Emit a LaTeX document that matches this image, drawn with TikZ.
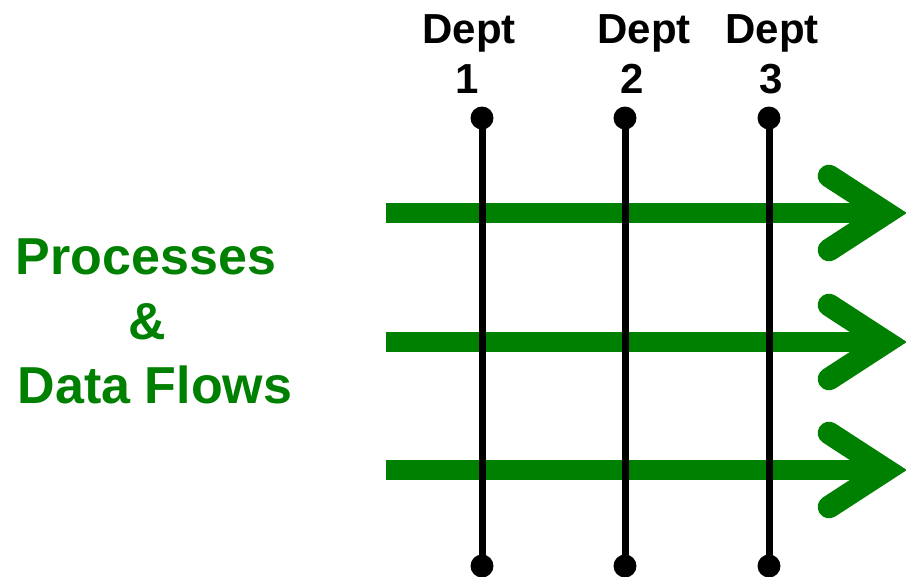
\documentclass[tikz,border=0pt]{standalone}
\usepackage{fontspec}
\setmainfont{Liberation Sans}
\definecolor{flowgreen}{RGB}{0,128,0}

\tikzset{
  dept/.style={font=\bfseries\fontsize{31.5}{38}\selectfont, anchor=base, inner sep=0pt},
  flowtext/.style={font=\bfseries\fontsize{39}{46}\selectfont, text=flowgreen, anchor=base, inner sep=0pt},
  flow/.style={draw=flowgreen, line width=15.5pt},
  flowhead/.style={draw=flowgreen, line width=17pt, line cap=round, line join=miter},
  deptline/.style={draw=black, line width=5.25pt},
  dot/.style={fill=black}
}

\begin{document}
\begin{tikzpicture}[x=0.75pt, y=-0.75pt]
    \useasboundingbox (0,0) rectangle (906,577);

    % flows
    \coordinate (s1) at (386,213); \coordinate (e1) at (886,213);
    \coordinate (s2) at (386,342); \coordinate (e2) at (886,342);
    \coordinate (s3) at (386,470); \coordinate (e3) at (886,470);
    \draw[flow] (s1) -- ([xshift=-5pt]e1);
    \draw[flow] (s2) -- ([xshift=-5pt]e2);
    \draw[flow] (s3) -- ([xshift=-5pt]e3);
    \draw[flowhead] ([shift={(-57,-37)}]e1) -- (e1) -- ([shift={(-57,37)}]e1);
    \draw[flowhead] ([shift={(-57,-37)}]e2) -- (e2) -- ([shift={(-57,37)}]e2);
    \draw[flowhead] ([shift={(-57,-37)}]e3) -- (e3) -- ([shift={(-57,37)}]e3);

    % departments
    \coordinate (t1) at (482,118); \coordinate (b1) at (482,566);
    \coordinate (t2) at (625,118); \coordinate (b2) at (625,566);
    \coordinate (t3) at (769,118); \coordinate (b3) at (769,566);
    \draw[deptline] (t1) -- (b1);
    \draw[deptline] (t2) -- (b2);
    \draw[deptline] (t3) -- (b3);
    \fill[dot] (t1) circle (8.6pt) (b1) circle (8.6pt);
    \fill[dot] (t2) circle (8.6pt) (b2) circle (8.6pt);
    \fill[dot] (t3) circle (8.6pt) (b3) circle (8.6pt);

    \node[dept] (d1) at (469,44) {Dept};
    \node[dept] (n1) at (467,94) {1};
    \node[dept] (d2) at (644,44) {Dept};
    \node[dept] (n2) at (632,94) {2};
    \node[dept] (d3) at (772,44) {Dept};
    \node[dept] (n3) at (771,94) {3};

    % label
    \node[flowtext] (proc) at (146,275) {Processes};
    \node[flowtext] (amp) at (147,339) {\&};
    \node[flowtext] (data) at (155,403) {Data Flows};
\end{tikzpicture}
\end{document}
